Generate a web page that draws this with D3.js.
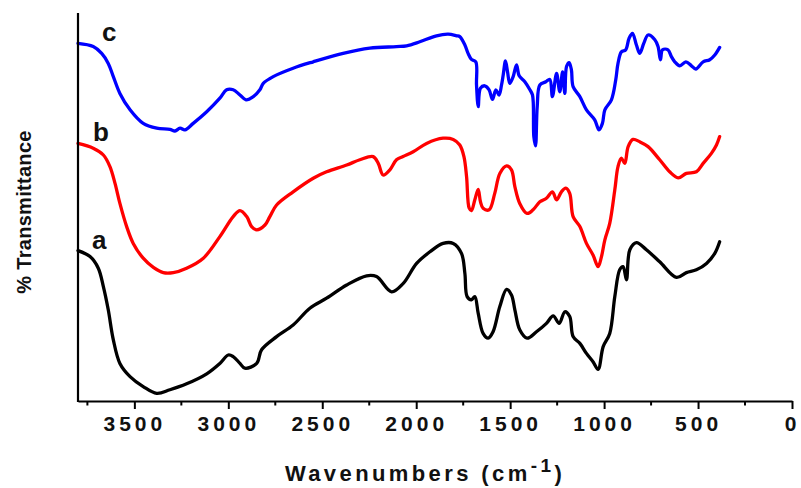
<!DOCTYPE html>
<html>
<head>
<meta charset="utf-8">
<script src="https://cdn.jsdelivr.net/npm/d3@7"></script>
<style>
  html, body { margin: 0; padding: 0; background: #fff; }
  svg { display: block; }
  text { font-family: Arial, "Liberation Sans", sans-serif; font-weight: bold; fill: #111; }
</style>
</head>
<body>
<svg id="chart" width="801" height="488"></svg>
<script>
// FTIR spectra: wavenumber (cm^-1) and relative transmittance (offset per trace)
const wavenumbersC = [3800,3719,3674,3639,3612,3577,3523,3453,3381,3311,3284,3257,3231,3187,3115,3045,3009,2974,2938,2906,2867,2832,2814,2761,2655,2548,2389,2247,2105,2051,1981,1892,1830,1785,1768,1741,1724,1706,1683,1679,1670,1658,1635,1612,1594,1576,1559,1546,1537,1525,1514,1502,1484,1466,1452,1422,1395,1381,1374,1365,1356,1342,1310,1289,1275,1253,1236,1221,1209,1200,1186,1174,1165,1129,1094,1050,1027,1009,996,961,938,926,908,885,867,849,828,810,789,766,730,713,700,689,660,642,624,597,565,535,512,473,438,411,385];
const transmittanceC = [89.4,88.6,86.9,84.4,81.1,76.9,72.8,69.4,68.2,67.9,67.5,68.2,67.8,69.4,72.3,75.7,77.8,77.8,76.5,75.3,76.1,77.8,79.4,81.1,83.2,84.8,86.9,88.2,88.6,88.8,89.8,91.3,91.7,91.3,91.1,89.0,86.9,85.4,84.8,79.0,73.6,78.2,78.8,77.8,75.4,77.8,76.5,79.0,81.5,85.0,82.3,79.4,81.1,84.0,81.3,79.8,77.8,76.5,66.1,63.8,73.6,79.0,79.8,80.4,76.1,81.9,77.3,82.3,76.9,83.6,84.6,82.8,78.6,76.1,72.8,70.3,67.8,69.4,72.8,75.3,80.3,84.4,87.3,87.8,90.7,91.9,89.0,86.9,89.4,91.5,90.3,88.6,85.3,87.8,87.8,86.1,84.8,83.8,84.8,83.8,83.0,84.8,85.3,86.5,88.4];

const wavenumbersB = [3800,3719,3665,3630,3603,3577,3541,3506,3453,3399,3346,3293,3222,3133,3045,2974,2938,2902,2876,2849,2805,2779,2743,2655,2548,2477,2370,2300,2229,2202,2176,2140,2105,2070,2016,1945,1857,1803,1768,1746,1732,1718,1706,1688,1670,1658,1644,1612,1582,1555,1519,1493,1475,1449,1410,1378,1342,1307,1275,1253,1227,1204,1183,1165,1129,1094,1059,1032,1014,996,970,943,926,908,890,872,846,810,766,704,651,606,562,509,473,429,402,385];
const transmittanceB = [64.4,63.2,61.5,58.6,54.4,49.4,43.6,39.4,35.7,33.4,32.1,32.1,33.2,35.7,41.1,46.1,47.6,46.1,43.6,42.8,44.0,46.1,49.0,52.3,55.7,57.3,59.0,60.3,61.1,59.4,56.5,57.8,60.3,61.1,62.3,64.4,65.7,65.4,64.0,61.1,56.1,48.2,47.6,50.3,52.9,49.8,48.2,47.8,51.9,56.9,58.8,57.8,53.6,49.4,46.9,47.8,49.8,50.7,52.3,50.3,52.3,53.2,51.9,46.1,43.6,39.4,36.5,33.6,36.1,40.3,44.4,52.8,58.6,60.7,59.4,63.6,65.4,64.8,63.6,60.3,57.3,55.8,56.9,57.3,59.4,61.9,64.0,66.1];

const wavenumbersA = [3800,3736,3692,3665,3639,3612,3577,3523,3453,3381,3311,3222,3115,3045,3000,2974,2938,2912,2849,2823,2743,2655,2566,2477,2370,2264,2211,2131,2069,1998,1927,1857,1803,1759,1741,1729,1706,1688,1670,1644,1617,1591,1555,1519,1493,1475,1449,1410,1360,1307,1271,1239,1209,1183,1165,1129,1094,1059,1032,1005,970,943,917,899,881,863,828,775,704,615,562,509,455,411,385];
const transmittanceA = [37.6,36.1,33.2,28.6,22.8,15.3,9.4,6.1,3.6,1.9,2.8,4.3,6.8,9.4,11.5,11.1,9.4,8.2,9.4,12.8,16.1,19.0,23.2,25.7,29.0,31.3,31.1,27.3,29.4,34.4,37.3,39.4,39.4,36.9,31.9,26.1,25.3,26.1,21.9,16.9,15.7,17.3,23.6,27.9,26.5,22.8,17.8,15.7,17.3,19.4,21.3,19.4,22.3,21.1,16.1,14.4,11.9,9.8,7.9,13.6,16.9,26.1,32.8,33.6,30.3,37.8,39.6,37.8,34.8,30.9,32.1,32.8,34.4,36.9,39.8];

const sampleLabels = ["a", "b", "c"];
const traceColors = ["#000000", "#ff0000", "#0000ff"];
const majorTicks = [3500, 3000, 2500, 2000, 1500, 1000, 500, 0];
const minorTicks = [3750, 3250, 2750, 2250, 1750, 1250, 750, 250];

const svg = d3.select("#chart");
const margin = { left: 78, right: 9, top: 13, bottom: 87 };
const W = 801, H = 488;

const x = d3.scaleLinear().domain([3800, 0]).range([margin.left, W - margin.right]);
const y = d3.scaleLinear().domain([0, 97]).range([H - margin.bottom, margin.top]);

const traces = [
  { label: sampleLabels[0], color: traceColors[0], w: wavenumbersA, t: transmittanceA },
  { label: sampleLabels[1], color: traceColors[1], w: wavenumbersB, t: transmittanceB },
  { label: sampleLabels[2], color: traceColors[2], w: wavenumbersC, t: transmittanceC }
];

const line = d3.line()
  .curve(d3.curveCatmullRom.alpha(0.5))
  .x(d => x(d[0]))
  .y(d => y(d[1]));

svg.append("g").selectAll("path")
  .data(traces)
  .join("path")
  .attr("d", d => line(d.w.map((w, i) => [w, d.t[i]])))
  .attr("fill", "none")
  .attr("stroke", d => d.color)
  .attr("stroke-width", 3.3)
  .attr("stroke-linejoin", "round")
  .attr("stroke-linecap", "round");

// trace labels, placed just above each trace's starting point
svg.append("g").selectAll("text")
  .data(traces)
  .join("text")
  .attr("x", (d, i) => x(d.w[0]) + [14, 15, 24][i])
  .attr("y", d => y(d.t[0]) - 2)
  .attr("font-size", 26)
  .text(d => d.label);

// bottom axis with major and minor ticks
const xAxis = svg.append("g").attr("transform", `translate(0,${y(0)})`);
xAxis.call(d3.axisBottom(x).tickValues(majorTicks).tickSize(8).tickSizeOuter(0).tickFormat(d3.format("d")));
xAxis.select(".domain").attr("stroke-width", 2.2).attr("stroke", "#000");
xAxis.selectAll(".tick line").attr("stroke-width", 2).attr("stroke", "#000");
xAxis.selectAll(".tick text")
  .attr("y", 15)
  .attr("dy", "0.71em")
  .attr("font-size", 21)
  .attr("letter-spacing", 4)
  .attr("font-family", "Arial, 'Liberation Sans', sans-serif")
  .attr("font-weight", "bold")
  .attr("fill", "#111");

xAxis.append("g").selectAll("line")
  .data(minorTicks)
  .join("line")
  .attr("x1", d => x(d)).attr("x2", d => x(d))
  .attr("y1", 0).attr("y2", 4.5)
  .attr("stroke", "#000").attr("stroke-width", 2);

// left axis line (no ticks)
svg.append("line")
  .attr("x1", x(3800)).attr("x2", x(3800))
  .attr("y1", margin.top).attr("y2", y(0) + 1)
  .attr("stroke", "#000").attr("stroke-width", 2.2);

// axis titles
const xTitle = svg.append("text")
  .attr("x", 425)
  .attr("y", 481)
  .attr("text-anchor", "middle")
  .attr("font-size", 22)
  .attr("letter-spacing", 3.4);
xTitle.append("tspan").text("Wavenumbers (cm");
xTitle.append("tspan").attr("dy", -9).attr("font-size", 19).text("-1");
xTitle.append("tspan").attr("dy", 9).text(")");

svg.append("text")
  .attr("transform", "translate(31,212) rotate(-90)")
  .attr("text-anchor", "middle")
  .attr("font-size", 20)
  .attr("letter-spacing", 0.3)
  .text("% Transmittance");
</script>
</body>
</html>
